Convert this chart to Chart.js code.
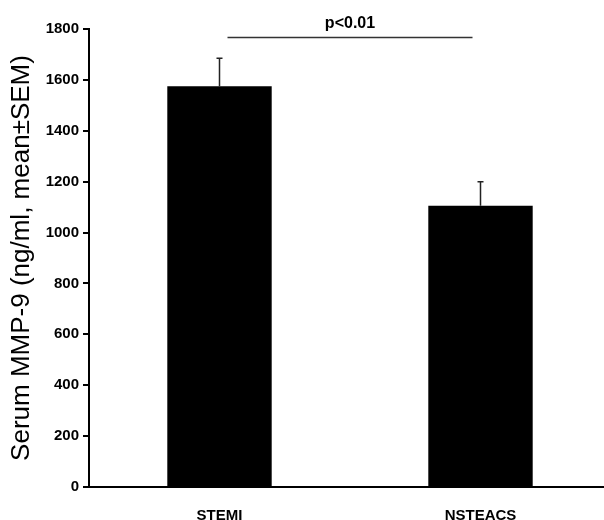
<!DOCTYPE html>
<html><head><meta charset="utf-8">
<script src="https://cdn.jsdelivr.net/npm/chart.js@4"></script>
<style>html,body{margin:0;padding:0;background:#fff;overflow:hidden;width:604px;height:520px}
#wrap{width:612px;height:520px;position:relative}</style>
</head><body><div id="wrap"><canvas id="c" width="612" height="520"></canvas></div>
<script>
const categories = ["STEMI", "NSTEACS"];
const meanValues = [1575, 1105];
const semValues = [110, 95];
const yTicks = [0, 200, 400, 600, 800, 1000, 1200, 1400, 1600, 1800];
const sigLabel = "p<0.01";
const sigLevel = 1768;
const FONT = "'Liberation Sans', Arial, sans-serif";

const errPlugin = {
  id: 'err',
  afterDatasetsDraw(chart) {
    const ctx = chart.ctx, x = chart.scales.x, y = chart.scales.y;
    ctx.save();
    ctx.strokeStyle = '#222';
    ctx.lineWidth = 1.5;
    meanValues.forEach((m, i) => {
      const px = x.getPixelForValue(i);
      const top = y.getPixelForValue(m + semValues[i]);
      const base = y.getPixelForValue(m);
      ctx.beginPath();
      ctx.moveTo(px, base); ctx.lineTo(px, top);
      ctx.moveTo(px - 3, top); ctx.lineTo(px + 3, top);
      ctx.stroke();
    });
    const x0 = x.getPixelForValue(0) + 8, x1 = x.getPixelForValue(1) - 8;
    const ly = Math.round(y.getPixelForValue(sigLevel)) + 0.5;
    ctx.strokeStyle = '#333'; ctx.lineWidth = 1.3;
    ctx.beginPath(); ctx.moveTo(x0, ly); ctx.lineTo(x1, ly); ctx.stroke();
    ctx.fillStyle = '#000';
    ctx.font = "bold 16px " + FONT;
    ctx.textAlign = 'center'; ctx.textBaseline = 'bottom';
    ctx.fillText(sigLabel, (x0 + x1) / 2, ly - 6);
    ctx.restore();
  }
};

new Chart(document.getElementById('c'), {
  type: 'bar',
  data: {
    labels: categories,
    datasets: [{
      data: meanValues,
      backgroundColor: '#000',
      borderWidth: 0,
      barPercentage: 0.4,
      categoryPercentage: 1.0
    }]
  },
  options: {
    responsive: false,
    animation: false,
    locale: 'en-US',
    layout: { padding: { top: 29, right: 1, left: 0, bottom: 0 } },
    plugins: { legend: { display: false }, tooltip: { enabled: false } },
    scales: {
      x: {
        grid: { display: false, drawTicks: false },
        border: { display: true, color: '#000', width: 2 },
        ticks: { color: '#000', font: { family: FONT, size: 15, weight: 'bold' }, padding: 20 },
        afterFit(s) { s.height = 33; }
      },
      y: {
        min: 0, max: 1800,
        afterBuildTicks(s) { s.ticks = yTicks.map(v => ({ value: v })); },
        grid: { drawOnChartArea: false, drawTicks: true, tickLength: 6, color: '#000', lineWidth: 2 },
        border: { display: true, color: '#000', width: 2 },
        ticks: { color: '#000', font: { family: FONT, size: 15, weight: 'bold' }, padding: 4,
                 callback: (v) => String(v) },
        title: { display: true, text: 'Serum MMP-9 (ng/ml, mean\u00B1SEM)', color: '#000',
                 font: { family: FONT, size: 26 }, padding: { top: 6, bottom: 0 } },
        afterFit(s) { s.width = 89; }
      }
    }
  },
  plugins: [errPlugin]
});
</script></body></html>
